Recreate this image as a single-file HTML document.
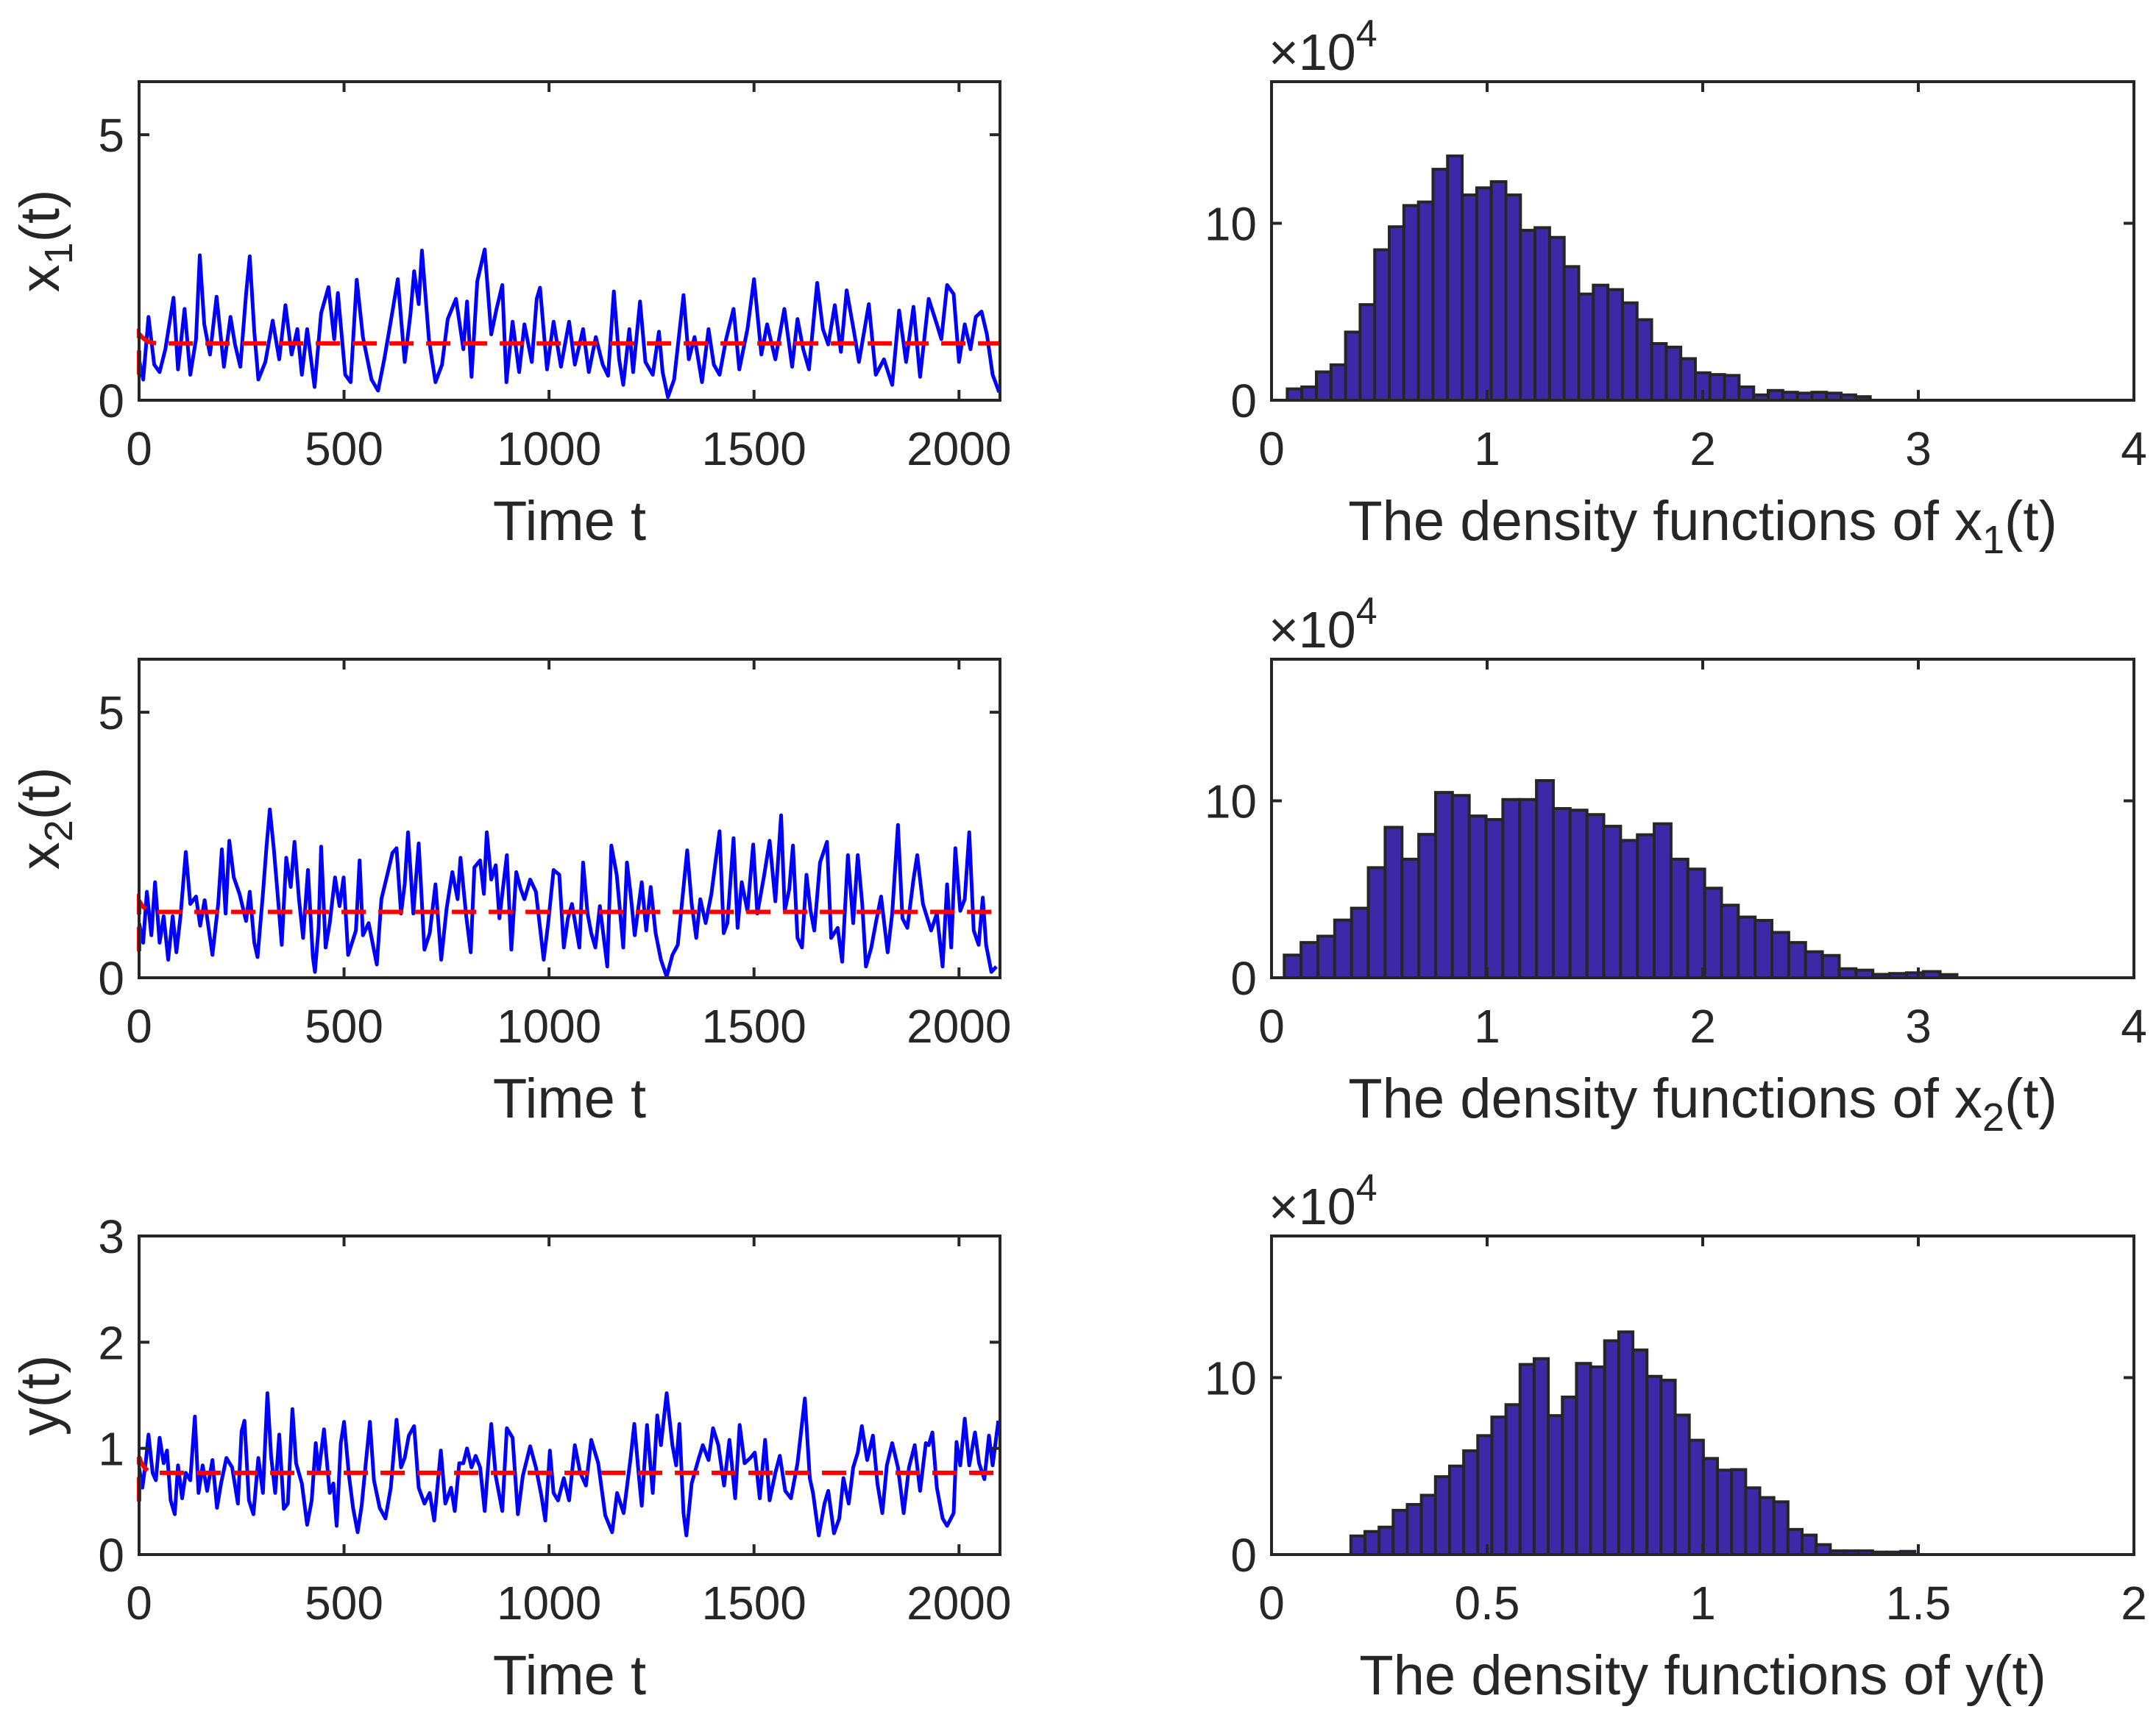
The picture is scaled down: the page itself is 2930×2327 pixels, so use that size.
<!DOCTYPE html>
<html><head><meta charset="utf-8"><style>
html,body{margin:0;padding:0;background:#fff;}
svg{display:block;font-family:"Liberation Sans",Arial,sans-serif;}
</style></head><body>
<svg id="fig" width="2930" height="2327" viewBox="0 0 2930 2327" xmlns="http://www.w3.org/2000/svg"></svg>
<script>
// ---------- Data ----------
const x1T=[0,10,23,37,50,64,84,95,111,125,139,148,159,173,189,207,223,234,247,261,270,281,291,308,326,342,357,372,386,397,410,428,444,462,476,485,503,516,531,546,567,583,598,618,631,648,662,671,682,690,707,723,739,753,773,791,800,811,825,843,859,872,886,896,911,927,940,958,970,978,995,1011,1029,1049,1063,1083,1097,1114,1131,1144,1158,1171,1181,1196,1205,1222,1235,1253,1268,1277,1290,1305,1328,1341,1355,1373,1389,1402,1416,1432,1450,1464,1484,1500,1518,1532,1552,1574,1593,1606,1620,1634,1654,1668,1681,1697,1712,1726,1745,1756,1780,1797,1817,1837,1854,1871,1889,1905,1926,1946,1957,1971,1987,2000,2014,2028,2041,2055,2068,2082,2098];
const x1V=[0.77,0.39,1.57,0.67,0.53,0.96,1.93,0.58,1.72,0.48,1.15,2.73,1.43,0.86,1.95,0.63,1.57,1.05,0.63,2.0,2.71,1.29,0.39,0.72,1.50,0.77,1.79,0.86,1.34,0.48,1.34,0.25,1.64,2.13,1.15,2.02,0.48,0.34,2.27,1.19,0.39,0.18,0.77,1.67,2.28,0.72,1.62,2.43,1.81,2.82,1.15,0.34,0.67,1.53,1.91,0.96,1.86,0.44,2.24,2.84,1.24,1.72,2.17,0.34,1.48,0.53,1.43,0.72,1.91,2.12,0.58,1.48,0.63,1.48,0.67,1.34,0.53,1.19,0.67,0.46,2.05,0.77,0.29,1.34,0.53,1.86,0.72,0.48,1.29,0.53,0.06,0.39,1.98,0.77,1.19,0.34,1.34,0.67,0.48,1.15,1.72,0.58,1.34,2.28,0.86,1.43,0.77,1.72,0.63,1.53,0.96,0.58,2.21,1.34,1.05,1.79,0.91,2.07,1.24,0.72,1.81,0.48,0.77,0.29,1.69,0.72,1.76,0.44,1.91,1.43,1.15,2.17,2.0,0.72,1.43,0.96,1.57,1.67,1.24,0.48,0.15];
const x1RedT=[0,0,0,8,20,35,50,2100];
const x1RedV=[0.48,0.96,1.25,1.18,1.11,1.08,1.07,1.07];

const x2T=[0,10,19,30,39,50,60,71,82,91,101,114,125,139,149,160,179,193,202,211,220,231,245,261,270,281,289,302,311,319,329,340,348,359,370,379,390,400,412,424,429,438,444,455,465,478,489,499,510,529,538,546,560,580,591,607,618,628,639,648,656,669,682,696,709,723,737,750,764,777,784,798,809,818,832,841,848,859,870,879,897,908,920,931,940,954,968,987,998,1011,1025,1036,1046,1056,1074,1083,1094,1103,1113,1124,1142,1152,1165,1171,1181,1190,1199,1209,1226,1237,1248,1260,1273,1287,1301,1314,1327,1337,1348,1359,1369,1382,1396,1405,1416,1426,1435,1450,1460,1470,1484,1498,1508,1525,1538,1552,1566,1575,1586,1595,1606,1617,1628,1638,1647,1661,1678,1688,1704,1715,1729,1742,1753,1764,1773,1786,1797,1810,1826,1837,1851,1862,1874,1889,1898,1912,1932,1946,1960,1971,1981,1991,2003,2014,2025,2036,2048,2058,2066,2079,2091];
const x2V=[1.03,0.66,1.62,0.80,1.80,0.66,1.16,0.34,1.16,0.48,1.16,2.37,1.39,1.53,0.98,1.46,0.43,1.39,2.42,1.21,2.58,1.89,1.58,1.07,1.62,0.66,0.39,1.58,2.49,3.17,2.40,1.39,0.62,2.26,1.71,2.56,1.48,0.75,2.03,0.39,0.11,0.94,2.47,0.57,1.03,1.89,1.35,1.89,0.43,0.89,2.21,0.80,1.03,0.25,1.48,1.99,2.35,2.44,1.21,1.76,2.74,1.21,2.53,0.53,0.84,1.76,0.34,1.30,1.99,1.48,2.26,1.16,0.48,2.08,2.21,1.58,2.74,1.85,2.12,1.12,2.31,0.53,1.99,1.67,1.48,1.85,1.62,0.34,1.03,2.03,1.94,0.57,1.12,1.39,0.57,2.17,1.21,0.84,0.57,1.35,0.21,2.49,1.94,1.44,0.57,2.17,1.58,0.80,1.80,0.89,1.71,0.84,0.34,0.02,0.43,0.62,1.62,2.40,1.39,0.75,1.48,1.03,1.58,2.12,2.76,0.84,1.03,2.63,0.94,1.80,1.26,2.51,1.21,1.94,2.58,1.44,3.06,1.26,1.67,2.49,0.75,0.57,1.94,1.26,0.89,2.17,2.56,0.75,0.94,0.30,2.31,1.03,2.31,1.39,0.21,0.57,1.03,1.53,0.48,1.21,2.88,1.12,0.94,1.85,2.31,1.39,0.89,1.21,0.21,1.76,0.57,2.44,1.26,1.48,2.74,0.89,0.62,1.51,0.62,0.11,0.21];
const x2RedT=[0,0,0,8,20,35,2100];
const x2RedV=[0.5,1.0,1.45,1.35,1.27,1.24,1.24];

const yT=[0,8,16,23,33,41,50,60,68,77,87,95,105,114,125,136,145,155,166,179,190,200,213,227,241,250,257,268,279,291,302,313,322,332,342,353,363,374,383,397,410,421,431,438,451,465,474,482,492,500,512,522,533,543,553,563,573,587,601,614,628,639,648,658,671,682,696,709,720,736,747,761,770,781,791,800,811,821,832,843,859,870,886,897,911,924,936,954,968,981,991,1002,1011,1022,1036,1049,1063,1076,1090,1103,1120,1137,1154,1166,1182,1199,1208,1219,1226,1239,1253,1264,1273,1287,1301,1310,1318,1328,1335,1348,1364,1375,1389,1400,1413,1427,1440,1454,1465,1477,1491,1502,1514,1527,1538,1552,1563,1576,1590,1606,1624,1636,1644,1658,1672,1681,1695,1708,1718,1731,1742,1753,1763,1776,1790,1801,1813,1824,1837,1851,1865,1878,1892,1905,1919,1926,1935,1946,1960,1971,1987,1994,2003,2014,2025,2039,2049,2062,2073,2082,2096];
const yV=[0.82,0.63,0.86,1.13,0.77,0.70,1.10,0.86,0.98,0.51,0.38,0.84,0.53,0.77,0.70,1.30,0.58,0.84,0.60,0.89,0.44,0.67,0.91,0.82,0.48,1.16,1.26,0.51,0.38,0.91,0.58,1.52,0.93,0.58,1.13,0.43,0.48,1.37,0.86,0.67,0.28,0.51,1.05,0.77,1.18,0.58,0.67,0.27,1.05,1.25,0.74,0.44,0.21,0.46,0.86,1.25,0.70,0.44,0.34,0.63,1.27,0.82,0.91,1.12,1.21,0.63,0.48,0.58,0.32,0.98,0.48,0.63,0.41,0.86,0.86,1.00,0.82,0.93,0.82,0.41,1.23,0.74,0.41,1.19,1.10,0.38,0.74,1.02,0.82,0.56,0.32,0.98,0.58,0.51,0.72,0.51,1.03,0.77,0.65,1.08,0.86,0.37,0.21,0.58,0.39,0.91,1.23,0.74,0.46,1.22,0.58,1.31,1.03,1.52,1.03,0.84,1.23,0.39,0.18,0.67,0.89,1.03,0.89,1.19,1.03,0.65,1.08,0.53,1.22,0.86,0.91,0.96,0.53,1.08,0.51,0.77,0.93,0.60,0.53,0.86,1.47,0.72,0.58,0.18,0.48,0.60,0.20,0.34,0.72,0.48,0.82,0.96,1.21,0.89,1.12,0.67,0.39,0.84,1.05,0.82,0.39,0.82,1.03,0.60,1.05,1.03,1.15,0.63,0.34,0.27,0.39,1.06,0.84,1.28,0.84,1.15,0.86,0.71,1.12,0.84,1.26];
const yRedT=[0,0,0,6,15,25,40,2100];
const yRedV=[0.5,0.75,0.92,0.86,0.81,0.78,0.77,0.77];

const h1Start=0.073, h1Width=0.0676;
const h1Counts=[0.64,0.75,1.6,2.0,3.85,5.4,8.5,9.8,11.0,11.2,13.05,13.8,11.6,12.0,12.35,11.6,9.6,9.75,9.2,7.55,6.0,6.5,6.25,5.5,4.55,3.2,3.0,2.35,1.55,1.45,1.4,0.75,0.3,0.55,0.45,0.4,0.45,0.4,0.3,0.2];
const h2Start=0.059, h2Width=0.078;
const h2Counts=[1.28,1.99,2.35,3.26,3.93,6.22,8.5,6.7,8.1,10.47,10.3,9.14,8.94,10.07,10.07,11.14,9.56,9.47,9.22,8.56,7.76,8.08,8.7,6.7,6.14,5.06,4.1,3.43,3.24,2.56,1.99,1.47,1.26,0.51,0.43,0.19,0.24,0.28,0.35,0.18];
const h3Start=0.184, h3Width=0.0327;
const h3Counts=[1.05,1.3,1.55,2.5,2.83,3.35,4.4,5.0,5.86,6.72,7.77,8.47,10.74,11.07,7.85,8.9,10.8,10.6,12.08,12.58,11.56,10.07,9.85,7.88,6.46,5.43,4.77,4.8,3.77,3.22,2.98,1.42,1.1,0.56,0.21,0.21,0.21,0.14,0.14,0.18];

const leftXTicks=[0,500,1000,1500,2000];
const yTicks12=[0,5];
const yTicks3=[0,1,2,3];
const histYTicks=[0,10];
const histXTicks12=[0,1,2,3,4];
const histXTicks3=[0,0.5,1,1.5,2];
const histXLabels3=['0','0.5','1','1.5','2'];

// ---------- Drawing ----------
const NS='http://www.w3.org/2000/svg';
const svg=document.getElementById('fig');
const INK='#262626';
function mk(tag,attrs,parent){const e=document.createElementNS(NS,tag);for(const k in attrs)e.setAttribute(k,attrs[k]);(parent||svg).appendChild(e);return e;}

const LX0=189,LX1=1359,RX0=1728,RX1=2900;
const rows=[[111,544],[896,1329],[1680,2113]];
const TICKF=64, LABF=76;

function axesFrame(g,x0,x1,y0,y1,xTicks,xLab,xf,yTicks,yf,name){
  const frame=mk('rect',{x:x0,y:y0,width:x1-x0,height:y1-y0,fill:'none',stroke:INK,'stroke-width':4},g);
  
  
  xTicks.forEach((t,i)=>{
    const px=xf(t);
    const tk=mk('path',{d:`M${px},${y1}v-14M${px},${y0}v14`,stroke:INK,'stroke-width':4},g);
    
    
    const tx=mk('text',{x:px,y:y1+88,'font-size':TICKF,'text-anchor':'middle',fill:INK},g);
    tx.textContent=xLab?xLab[i]:String(t);
    
    
  });
  yTicks.forEach(t=>{
    const py=yf(t);
    const tk=mk('path',{d:`M${x0},${py}h14M${x1},${py}h-14`,stroke:INK,'stroke-width':4},g);
    
    
    const tx=mk('text',{x:x0-20,y:py+23,'font-size':TICKF,'text-anchor':'end',fill:INK},g);
    tx.textContent=String(t);
    
    
  });
}

function timePlot(r,T,V,RT,RV,ymax,yTicks,labelMain,labelSub,name){
  const [y0,y1]=rows[r];
  const g=mk('g',{});
  
  
  const xf=t=>LX0+t/2100*(LX1-LX0);
  const yf=v=>y1-v/ymax*(y1-y0);
  const clipId='clip'+name;
  const cp=mk('clipPath',{id:clipId},g);
  mk('rect',{x:LX0,y:y0,width:LX1-LX0,height:y1-y0},cp);
  const d=T.map((t,i)=>(i?'L':'M')+xf(t).toFixed(1)+','+yf(V[i]).toFixed(1)).join('');
  const line=mk('path',{d:d,fill:'none',stroke:'#0000ff','stroke-width':5,'stroke-linejoin':'round','clip-path':`url(#${clipId})`},g);
  
  
  const rd=RT.map((t,i)=>(i?'L':'M')+xf(t).toFixed(1)+','+yf(RV[i]).toFixed(1)).join('');
  const red=mk('path',{d:rd,fill:'none',stroke:'#ff0000','stroke-width':6,'stroke-dasharray':'33,17'},g);
  
  
  axesFrame(g,LX0,LX1,y0,y1,leftXTicks,null,xf,yTicks,yf,name);
  const xl=mk('text',{x:(LX0+LX1)/2,y:y1+190,'font-size':LABF,'text-anchor':'middle',fill:INK},g);
  xl.textContent='Time t';
  
  
  const cy=(y0+y1)/2;
  const yl=mk('text',{x:0,y:0,'font-size':LABF,'text-anchor':'middle',fill:INK,transform:`translate(80,${cy}) rotate(-90)`},g);
  
  
  if(labelSub){
    yl.appendChild(document.createTextNode(labelMain));
    const s=mk('tspan',{dy:18,'font-size':54},yl);s.textContent=labelSub;
    const s2=mk('tspan',{dy:-18},yl);s2.textContent='(t)';
  } else yl.textContent=labelMain;
}

function histPlot(r,start,width,counts,xmax,xTicks,xLabels,subText,name){
  const [y0,y1]=rows[r];
  const g=mk('g',{});
  
  
  const xf=v=>RX0+v/xmax*(RX1-RX0);
  const yf=v=>y1-v/18*(y1-y0);
  counts.forEach((c,i)=>{
    const a=xf(start+i*width), b=xf(start+(i+1)*width);
    const bar=mk('rect',{x:a,y:yf(c),width:b-a,height:y1-yf(c),fill:'#3d28a8',stroke:INK,'stroke-width':4},g);
    
    
  });
  axesFrame(g,RX0,RX1,y0,y1,xTicks,xLabels,xf,histYTicks,yf,name);
  const ex=mk('text',{x:RX0-4,y:y0-16,'font-size':70,fill:INK},g);
  ex.textContent='×10';
  const sp=mk('tspan',{dy:-32,'font-size':52},ex);sp.textContent='4';
  
  
  const xl=mk('text',{x:(RX0+RX1)/2,y:y1+190,'font-size':LABF,'text-anchor':'middle',fill:INK},g);
  
  
  if(subText){
    xl.appendChild(document.createTextNode('The density functions of x'));
    const s=mk('tspan',{dy:18,'font-size':54},xl);s.textContent=subText;
    const s2=mk('tspan',{dy:-18},xl);s2.textContent='(t)';
  } else xl.textContent='The density functions of y(t)';
}

timePlot(0,x1T,x1V,x1RedT,x1RedV,6,yTicks12,'x','1','x1-time-series');
timePlot(1,x2T,x2V,x2RedT,x2RedV,6,yTicks12,'x','2','x2-time-series');
timePlot(2,yT,yV,yRedT,yRedV,3,yTicks3,'y(t)',null,'y-time-series');
histPlot(0,h1Start,h1Width,h1Counts,4,histXTicks12,null,'1','x1-histogram');
histPlot(1,h2Start,h2Width,h2Counts,4,histXTicks12,null,'2','x2-histogram');
histPlot(2,h3Start,h3Width,h3Counts,2,histXTicks3,histXLabels3,null,'y-histogram');
</script>
</body></html>
